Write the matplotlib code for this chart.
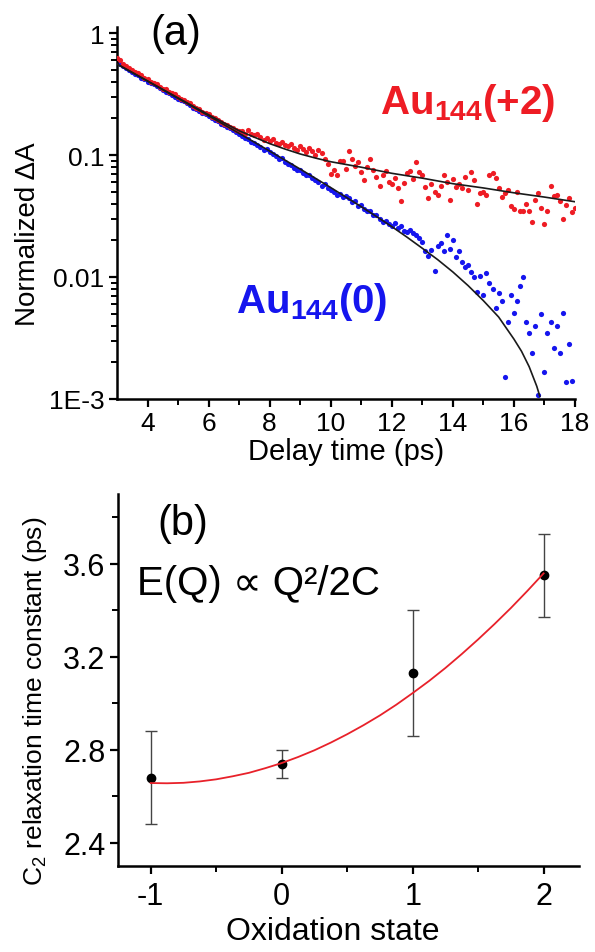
import matplotlib
matplotlib.use('Agg')
import matplotlib.pyplot as plt
from matplotlib.ticker import FixedLocator, NullFormatter, LogLocator, MultipleLocator

plt.rcParams['font.family'] = ['Liberation Sans', 'DejaVu Sans']
plt.rcParams['mathtext.fontset'] = 'custom'
plt.rcParams['mathtext.rm'] = 'Liberation Sans'
plt.rcParams['mathtext.bf'] = 'Liberation Sans:bold'
plt.rcParams['axes.unicode_minus'] = False

# (a) transient absorption decays, delay time in ps
delay_ps = [3.0, 3.1, 3.2, 3.3, 3.4, 3.5, 3.6, 3.7, 3.8, 3.9,
            4.0, 4.1, 4.2, 4.3, 4.4, 4.5, 4.6, 4.7, 4.8, 4.9,
            5.0, 5.1, 5.2, 5.3, 5.4, 5.5, 5.6, 5.7, 5.8, 5.9,
            6.0, 6.1, 6.2, 6.3, 6.4, 6.5, 6.6, 6.7, 6.8, 6.9,
            7.0, 7.1, 7.2, 7.3, 7.4, 7.5, 7.6, 7.7, 7.8, 7.9,
            8.0, 8.1, 8.2, 8.3, 8.4, 8.5, 8.6, 8.7, 8.8, 8.9,
            9.0, 9.1, 9.2, 9.3, 9.4, 9.5, 9.6, 9.7, 9.8, 9.9,
            10.0, 10.1, 10.2, 10.3, 10.4, 10.5, 10.6, 10.7, 10.8, 10.9,
            11.0, 11.1, 11.2, 11.3, 11.4, 11.5, 11.6, 11.7, 11.8, 11.9,
            12.0, 12.1, 12.2, 12.3, 12.4, 12.5, 12.6, 12.7, 12.8, 12.9,
            13.0, 13.1, 13.2, 13.3, 13.4, 13.5, 13.6, 13.7, 13.8, 13.9,
            14.0, 14.1, 14.2, 14.3, 14.4, 14.5, 14.6, 14.7, 14.8, 14.9,
            15.0, 15.1, 15.2, 15.3, 15.4, 15.5, 15.6, 15.7, 15.8, 15.9,
            16.0, 16.1, 16.2, 16.3, 16.4, 16.5, 16.6, 16.7, 16.8, 16.9,
            17.0, 17.1, 17.2, 17.3, 17.4, 17.5, 17.6, 17.7, 17.8, 17.9,
            18.0]

au_plus2 = [0.62, 0.60, 0.56, 0.54, 0.52, 0.50, 0.48, 0.47, 0.45, 0.43,
            0.42, 0.40, 0.39, 0.38, 0.36, 0.35, 0.345, 0.33, 0.32, 0.315,
            0.30, 0.29, 0.285, 0.27, 0.265, 0.25, 0.245, 0.24, 0.225, 0.22,
            0.215, 0.205, 0.20, 0.195, 0.185, 0.18, 0.175, 0.17, 0.165, 0.16,
            0.158, 0.158, 0.150, 0.160, 0.150, 0.145, 0.148, 0.140, 0.132, 0.138,
            0.130, 0.135, 0.126, 0.122, 0.128, 0.120, 0.118, 0.124, 0.115, 0.110,
            0.118, 0.112, 0.105, 0.114, 0.108, 0.100, 0.110, 0.104, 0.093, 0.085,
            0.070, 0.075, 0.068, 0.090, 0.0897, 0.0767, 0.108, 0.093, 0.0817, 0.087,
            0.072, 0.062, 0.079, 0.093, 0.076, 0.066, 0.056, 0.069, 0.074, 0.060,
            0.058, 0.065, 0.054, 0.042, 0.059, 0.071, 0.074, 0.063, 0.087, 0.072,
            0.068, 0.055, 0.044, 0.058, 0.050, 0.047, 0.056, 0.069, 0.060, 0.043,
            0.063, 0.055, 0.058, 0.054, 0.066, 0.052, 0.072, 0.062, 0.040, 0.049,
            0.050, 0.047, 0.068, 0.071, 0.065, 0.054, 0.045, 0.049, 0.052, 0.038,
            0.036, 0.050, 0.035, 0.035, 0.040, 0.035, 0.028, 0.043, 0.049, 0.037,
            0.027, 0.035, 0.056, 0.046, 0.047, 0.042, 0.030, 0.039, 0.044, 0.034,
            0.037]

au_neutral = [0.59, 0.56, 0.54, 0.52, 0.50, 0.48, 0.465, 0.45, 0.43, 0.42,
              0.40, 0.39, 0.38, 0.365, 0.355, 0.34, 0.33, 0.32, 0.31, 0.30,
              0.29, 0.28, 0.275, 0.265, 0.255, 0.245, 0.24, 0.23, 0.22, 0.215,
              0.21, 0.20, 0.195, 0.19, 0.18, 0.175, 0.17, 0.165, 0.16, 0.155,
              0.15, 0.143, 0.138, 0.135, 0.129, 0.126, 0.120, 0.117, 0.110, 0.112,
              0.105, 0.102, 0.098, 0.093, 0.095, 0.087, 0.085, 0.083, 0.078, 0.076,
              0.076, 0.071, 0.069, 0.068, 0.065, 0.062, 0.060, 0.056, 0.058, 0.054,
              0.052, 0.050, 0.047, 0.048, 0.045, 0.046, 0.044, 0.041, 0.042, 0.038,
              0.039, 0.036, 0.035, 0.035, 0.032, 0.032, 0.030, 0.028, 0.029, 0.027,
              0.026, 0.0275, 0.025, 0.026, 0.024, 0.0234, 0.0245, 0.023, 0.022, 0.021,
              0.0195, 0.0162, 0.0148, 0.0166, 0.0112, 0.018, 0.019, 0.0162, 0.022, 0.017,
              0.020, 0.0145, 0.0162, 0.0132, 0.012, 0.0126, 0.011, 0.010, 0.0076, 0.0102,
              0.0071, 0.0107, 0.0089, 0.0079, 0.0056, 0.0074, 0.0063, 0.0015, 0.0043, 0.0071,
              0.0051, 0.0063, 0.0085, 0.0100, 0.0043, 0.0035, 0.0024, 0.0040, 0.00108, 0.0050,
              0.00166, 0.0035, 0.0043, 0.0026, 0.0040, 0.0024, 0.0051, 0.00137, 0.0028, 0.0014]

fit_plus2_t = [3, 4, 5, 6, 7, 7.5, 8, 8.5, 9, 9.5, 10, 11, 12, 13, 14, 15, 16, 17, 18]
fit_plus2 = [0.557, 0.405, 0.294, 0.214, 0.158, 0.140, 0.124, 0.112, 0.102, 0.0944,
             0.0881, 0.0794, 0.0708, 0.0646, 0.0582, 0.0537, 0.0490, 0.0452, 0.0414]
fit_neutral_t = [3, 4, 5, 6, 7, 8, 9, 10, 11, 11.5, 12, 12.5, 13, 13.5, 14, 14.5,
                 15, 15.5, 16, 16.25, 16.5, 16.75, 16.85]
fit_neutral = [0.557, 0.403, 0.291, 0.2095, 0.1505, 0.1077, 0.0767, 0.0541, 0.0377,
               0.0313, 0.0259, 0.0212, 0.0172, 0.0139, 0.0110, 0.0085, 0.0064,
               0.0047, 0.0031, 0.00246, 0.00184, 0.00127, 0.00105]

# (b) relaxation time vs oxidation state
ox_state = [-1, 0, 1, 2]
tau_c2 = [2.68, 2.74, 3.13, 3.55]
tau_err = [0.20, 0.06, 0.27, 0.18]
fit_q = [-1, -0.875, -0.75, -0.625, -0.5, -0.375, -0.25, -0.125, 0, 0.125, 0.25,
         0.375, 0.5, 0.625, 0.75, 0.875, 1, 1.125, 1.25, 1.375, 1.5, 1.625,
         1.75, 1.875, 2]
fit_tau = [2.657, 2.656, 2.658, 2.664, 2.673, 2.686, 2.701, 2.721, 2.743, 2.769,
           2.798, 2.831, 2.867, 2.906, 2.948, 2.994, 3.044, 3.096, 3.152, 3.212,
           3.275, 3.341, 3.410, 3.483, 3.559]

red = '#ee1c24'
blue = '#1515ee'


def style(ax, tick_size):
    for s in ['top', 'right']:
        ax.spines[s].set_visible(False)
    for s in ['left', 'bottom']:
        ax.spines[s].set_linewidth(1.8)
    ax.tick_params(which='major', direction='out', length=6, width=1.6,
                   labelsize=tick_size, pad=3)
    ax.tick_params(which='minor', direction='out', length=4, width=1.4)


fig = plt.figure(figsize=(5.95, 9.53), dpi=100)

# ---- panel (a)
ax1 = fig.add_axes([0.1966, 0.5803, 0.7697, 0.3903])
ax1.set_yscale('log')
ax1.scatter(delay_ps[:len(au_neutral)], au_neutral, s=14, color=blue, lw=0, zorder=2)
ax1.scatter(delay_ps, au_plus2, s=14, color=red, lw=0, zorder=3)
ax1.plot(fit_plus2_t, fit_plus2, color='#1a1a1a', lw=1.2, zorder=4)
ax1.plot(fit_neutral_t, fit_neutral, color='#1a1a1a', lw=1.2, zorder=4)
ax1.set_xlim(3, 18)
ax1.set_ylim(1e-3, 1.12)
style(ax1, 19)
ax1.xaxis.set_major_locator(FixedLocator([4, 6, 8, 10, 12, 14, 16, 18]))
ax1.xaxis.set_minor_locator(FixedLocator([5, 7, 9, 11, 13, 15, 17]))
ax1.yaxis.set_major_locator(FixedLocator([1e-3, 1e-2, 1e-1, 1]))
ax1.set_yticklabels(['1E-3', '0.01', '0.1', '1'])
ax1.yaxis.set_minor_locator(LogLocator(base=10, subs=range(2, 10)))
ax1.yaxis.set_minor_formatter(NullFormatter())
ax1.set_xlabel('Delay time (ps)', fontsize=21, labelpad=1)
ax1.set_ylabel('Normalized ΔA', fontsize=20)
ax1.yaxis.set_label_coords(-0.165, 0.446)
ax1.text(0.129, 0.985, '(a)', transform=ax1.transAxes, fontsize=30,
         ha='center', va='center')
ax1.text(0.574, 0.77, r'$\mathbf{Au}_{\mathbf{144}}\mathbf{(+2)}$',
         transform=ax1.transAxes, fontsize=29, color=red, ha='left',
         va='baseline')
ax1.text(0.260, 0.234, r'$\mathbf{Au}_{\mathbf{144}}\mathbf{(0)}$',
         transform=ax1.transAxes, fontsize=29, color=blue, ha='left',
         va='baseline')

# ---- panel (b)
ax2 = fig.add_axes([0.1983, 0.0902, 0.7748, 0.3903])
ax2.errorbar(ox_state, tau_c2, yerr=tau_err, fmt='o', color='black',
             ms=6, ecolor='#444444', elinewidth=1.0, capsize=4, capthick=1.0,
             zorder=3)
ax2.plot(fit_q, fit_tau, color='#e8212a', lw=1.3, zorder=4)
ax2.set_xlim(-1.25, 2.27)
ax2.set_ylim(2.3, 3.9)
style(ax2, 22)
ax2.tick_params(axis='x', which='major', pad=5)
ax2.xaxis.set_major_locator(FixedLocator([-1, 0, 1, 2]))
ax2.xaxis.set_minor_locator(MultipleLocator(0.5))
ax2.yaxis.set_major_locator(FixedLocator([2.4, 2.8, 3.2, 3.6]))
ax2.yaxis.set_minor_locator(FixedLocator([2.6, 3.0, 3.4, 3.8]))
ax2.set_xlabel('Oxidation state', fontsize=23, labelpad=9)
ax2.xaxis.set_label_coords(0.465, -0.135)
ax2.set_ylabel(r'C$_2$ relaxation time constant (ps)', fontsize=19)
ax2.yaxis.set_label_coords(-0.15, 0.446)
ax2.text(0.141, 0.922, '(b)', transform=ax2.transAxes, fontsize=30,
         ha='center', va='center')
ax2.text(0.041, 0.731, 'E(Q) ∝ Q²/2C', transform=ax2.transAxes,
         fontsize=29, ha='left', va='baseline')

fig.savefig('out.png', dpi=100)
